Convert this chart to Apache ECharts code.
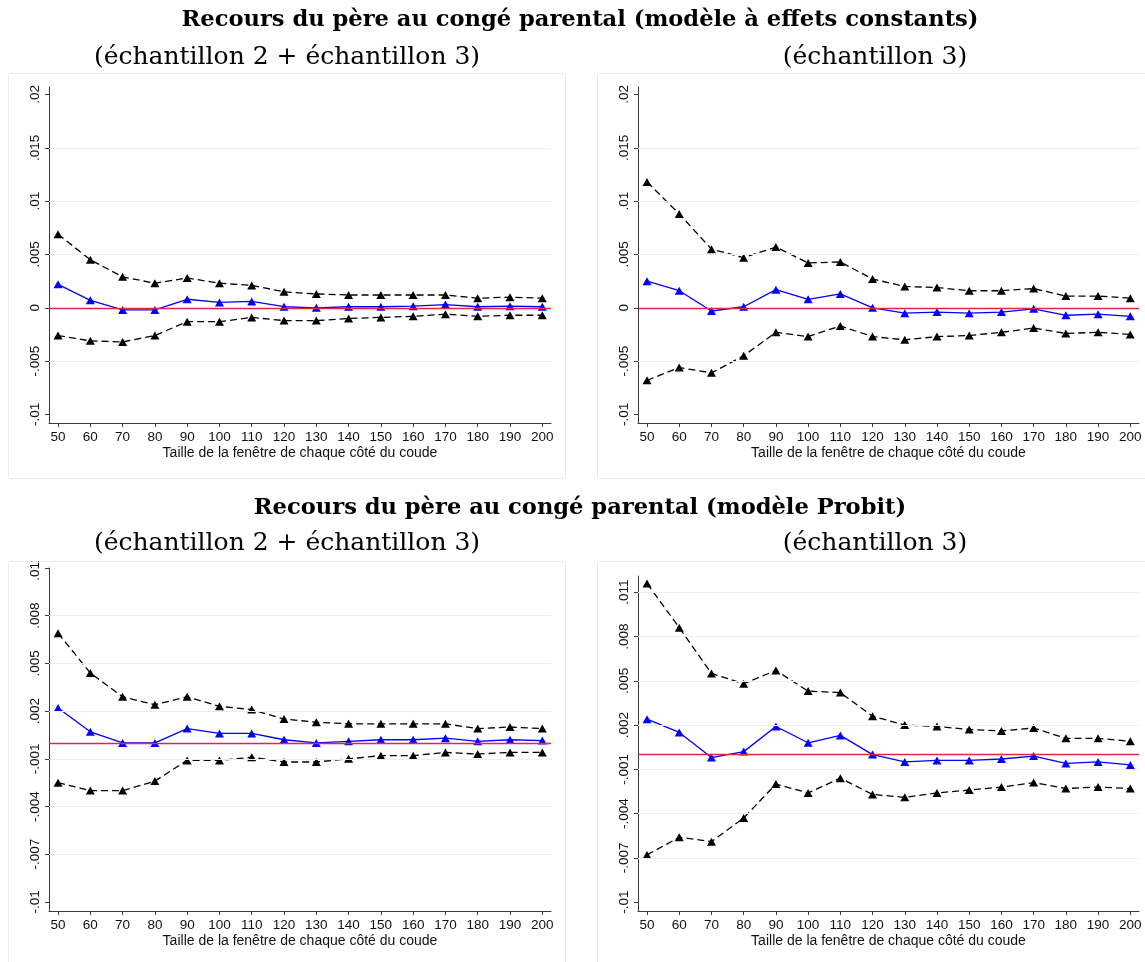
<!DOCTYPE html>
<html>
<head>
<meta charset="utf-8">
<script src="https://cdn.jsdelivr.net/npm/echarts@6/dist/echarts.min.js"></script>
<style>
html,body{margin:0;padding:0;background:#fff;}
#chart{width:1145px;height:962px;}
</style>
</head>
<body>
<div id="chart"></div>
<script>
// ---- Data ----
const windows = [50,60,70,80,90,100,110,120,130,140,150,160,170,180,190,200];

const titleTop = "Recours du père au congé parental (modèle à effets constants)";
const titleBottom = "Recours du père au congé parental (modèle Probit)";
const subLeft = "(échantillon 2 + échantillon 3)";
const subRight = "(échantillon 3)";
const xAxisName = "Taille de la fenêtre de chaque côté du coude";

const yTicksTop = [-0.01, -0.005, 0, 0.005, 0.01, 0.015, 0.02];
const yTicksBottom = [-0.01, -0.007, -0.004, -0.001, 0.002, 0.005, 0.008, 0.011];

// Top-left: modèle à effets constants, échantillon 2 + 3
const tlUpper = [0.0069,0.0045,0.0029,0.0023,0.0028,0.0023,0.0021,0.0015,0.0013,0.0012,0.0012,0.0012,0.0012,0.0009,0.0010,0.0009];
const tlCoef  = [0.0022,0.0007,-0.0002,-0.0002,0.0008,0.0005,0.0006,0.0001,0.0000,0.0001,0.0001,0.00015,0.0003,0.0001,0.00015,0.0001];
const tlLower = [-0.0026,-0.0031,-0.0032,-0.0026,-0.0013,-0.0013,-0.0009,-0.0012,-0.0012,-0.0010,-0.0009,-0.0008,-0.0006,-0.0008,-0.0007,-0.0007];

// Top-right: modèle à effets constants, échantillon 3
const trUpper = [0.0118,0.0088,0.0055,0.0047,0.0057,0.0042,0.0043,0.0027,0.0020,0.0019,0.0016,0.0016,0.0018,0.0011,0.0011,0.0009];
const trCoef  = [0.0025,0.0016,-0.0003,0.0001,0.0017,0.0008,0.0013,0.0000,-0.0005,-0.0004,-0.0005,-0.0004,-0.0001,-0.0007,-0.0006,-0.0008];
const trLower = [-0.0068,-0.0056,-0.0061,-0.0045,-0.0023,-0.0027,-0.0017,-0.0027,-0.0030,-0.0027,-0.0026,-0.0023,-0.0019,-0.0024,-0.0023,-0.0025];

// Bottom-left: modèle Probit, échantillon 2 + 3
const blUpper = [0.0069,0.0044,0.0029,0.0024,0.0029,0.0023,0.0021,0.0015,0.0013,0.0012,0.0012,0.0012,0.0012,0.0009,0.0010,0.0009];
const blCoef  = [0.0022,0.0007,0.0000,0.0000,0.0009,0.0006,0.0006,0.0002,0.0000,0.0001,0.0002,0.0002,0.0003,0.0001,0.0002,0.00015];
const blLower = [-0.0025,-0.0030,-0.0030,-0.0024,-0.0011,-0.0011,-0.0009,-0.0012,-0.0012,-0.0010,-0.0008,-0.0008,-0.0006,-0.0007,-0.0006,-0.0006];

// Bottom-right: modèle Probit, échantillon 3
const brUpper = [0.0116,0.0086,0.0055,0.0048,0.0057,0.0043,0.0042,0.0026,0.0020,0.0019,0.0017,0.0016,0.0018,0.0011,0.0011,0.0009];
const brCoef  = [0.0024,0.0015,-0.0002,0.0002,0.0019,0.0008,0.0013,0.0000,-0.0005,-0.0004,-0.0004,-0.0003,-0.0001,-0.0006,-0.0005,-0.0007];
const brLower = [-0.0068,-0.0056,-0.0059,-0.0043,-0.0020,-0.0026,-0.0016,-0.0027,-0.0029,-0.0026,-0.0024,-0.0022,-0.0019,-0.0023,-0.0022,-0.0023];

// ---- Chart ----
const FONT = "'Liberation Sans', Arial, sans-serif";
const SERIF = "'DejaVu Serif', 'Liberation Serif', serif";
const GRIDC = '#e6eff1';
const BORDERC = '#e3ecee';

function fmt(v){
  if (Math.abs(v) < 1e-12) return '0';
  let s = (+v.toFixed(4)).toString();
  return s.replace(/^(-?)0\./, '$1.');
}

const panels = [
  {left:49, top:87, width:502, height:336, yMin:-0.0108, yMax:0.0207, ticks:yTicksTop, grid:[-0.005,0.005,0.01,0.015], up:tlUpper, co:tlCoef, lo:tlLower},
  {left:638, top:87, width:501, height:336, yMin:-0.0108, yMax:0.0207, ticks:yTicksTop, grid:[-0.005,0.005,0.01,0.015], up:trUpper, co:trCoef, lo:trLower},
  {left:49, top:568, width:502, height:343, yMin:-0.01057, yMax:0.011, ticks:yTicksBottom, grid:[-0.007,-0.004,-0.001,0.002,0.005,0.008], up:blUpper, co:blCoef, lo:blLower},
  {left:638, top:576, width:501, height:335, yMin:-0.0106, yMax:0.0121, ticks:yTicksBottom, grid:[-0.007,-0.004,-0.001,0.002,0.005,0.008,0.011], up:brUpper, co:brCoef, lo:brLower}
];

const grids = [], xAxes = [], yAxes = [], series = [];
panels.forEach((p, i) => {
  grids.push({left:p.left, top:p.top, width:p.width, height:p.height, containLabel:false});
  xAxes.push({
    type:'value', gridIndex:i, min:47.2, max:202.7,
    name:xAxisName, nameLocation:'middle', nameGap:23,
    nameTextStyle:{fontFamily:FONT, fontSize:14, color:'#111'},
    axisLine:{show:true, onZero:false, lineStyle:{color:'#3a3a3a', width:1}},
    axisTick:{show:true, length:4, customValues:windows, lineStyle:{color:'#3a3a3a'}},
    axisLabel:{show:true, customValues:windows, margin:7, fontFamily:FONT, fontSize:13.5, color:'#111'},
    splitLine:{show:false}
  });
  yAxes.push({
    type:'value', gridIndex:i, min:p.yMin, max:p.yMax,
    axisLine:{show:true, onZero:false, lineStyle:{color:'#3a3a3a', width:1}},
    axisTick:{show:true, length:4, customValues:p.ticks, lineStyle:{color:'#3a3a3a'}},
    axisLabel:{show:true, customValues:p.ticks, rotate:90, margin:7, fontFamily:FONT, fontSize:13.5, color:'#111', formatter:fmt},
    splitLine:{show:false}
  });
  // gridlines + zero line
  series.push({
    type:'line', xAxisIndex:i, yAxisIndex:i, data:[], silent:true, z:1,
    markLine:{
      silent:true, precision:6, symbol:['none','none'], label:{show:false}, animation:false,
      lineStyle:{color:GRIDC, width:1, type:'solid'},
      emphasis:{disabled:true},
      data:p.grid.map(v => ({yAxis:v}))
    }
  });
  series.push({
    type:'line', xAxisIndex:i, yAxisIndex:i, data:[], silent:true, z:2,
    markLine:{
      silent:true, precision:6, symbol:['none','none'], label:{show:false}, animation:false,
      lineStyle:{color:'#e0254f', width:1.4, type:'solid'},
      emphasis:{disabled:true},
      data:[{yAxis:0}]
    }
  });
  const mk = (arr, color, dashed) => ({
    type:'line', xAxisIndex:i, yAxisIndex:i, z:3,
    data: windows.map((w, k) => [w, arr[k]]),
    symbol:'triangle', symbolSize:[9,8], showSymbol:true,
    itemStyle:{color:color},
    lineStyle:{color:color, width:1.3, type: dashed ? [7,4] : 'solid'},
    emphasis:{disabled:true}
  });
  series.push(mk(p.up, '#000000', true));
  series.push(mk(p.lo, '#000000', true));
  series.push(mk(p.co, '#0000ff', false));
});

const option = {
  animation:false,
  backgroundColor:'#ffffff',
  title:[
    {text:titleTop, left:575, top:4, textAlign:'center', textStyle:{fontFamily:SERIF, fontWeight:'bold', fontSize:22.6, color:'#000'}},
    {text:subLeft, left:282, top:40, textAlign:'center', textStyle:{fontFamily:SERIF, fontWeight:'normal', fontSize:25, color:'#000'}},
    {text:subRight, left:870, top:40, textAlign:'center', textStyle:{fontFamily:SERIF, fontWeight:'normal', fontSize:25, color:'#000'}},
    {text:titleBottom, left:575, top:492, textAlign:'center', textStyle:{fontFamily:SERIF, fontWeight:'bold', fontSize:22.6, color:'#000'}},
    {text:subLeft, left:282, top:526, textAlign:'center', textStyle:{fontFamily:SERIF, fontWeight:'normal', fontSize:25, color:'#000'}},
    {text:subRight, left:870, top:526, textAlign:'center', textStyle:{fontFamily:SERIF, fontWeight:'normal', fontSize:25, color:'#000'}}
  ],
  graphic:[
    {type:'rect', shape:{x:8.5, y:73.5, width:557, height:405}, style:{fill:'none', stroke:BORDERC, lineWidth:1}, silent:true, z:0},
    {type:'rect', shape:{x:597.5, y:73.5, width:557, height:405}, style:{fill:'none', stroke:BORDERC, lineWidth:1}, silent:true, z:0},
    {type:'rect', shape:{x:8.5, y:561.5, width:557, height:410}, style:{fill:'none', stroke:BORDERC, lineWidth:1}, silent:true, z:0},
    {type:'rect', shape:{x:597.5, y:561.5, width:557, height:410}, style:{fill:'none', stroke:BORDERC, lineWidth:1}, silent:true, z:0},
    // panel clipping of the top tick label in bottom-left panel
    {type:'rect', shape:{x:12, y:549, width:34, height:12}, style:{fill:'#ffffff'}, silent:true, z:100}
  ],
  grid:grids,
  xAxis:xAxes,
  yAxis:yAxes,
  series:series
};

const chart = echarts.init(document.getElementById('chart'), null, {renderer:'canvas'});
chart.setOption(option);
</script>
</body>
</html>
